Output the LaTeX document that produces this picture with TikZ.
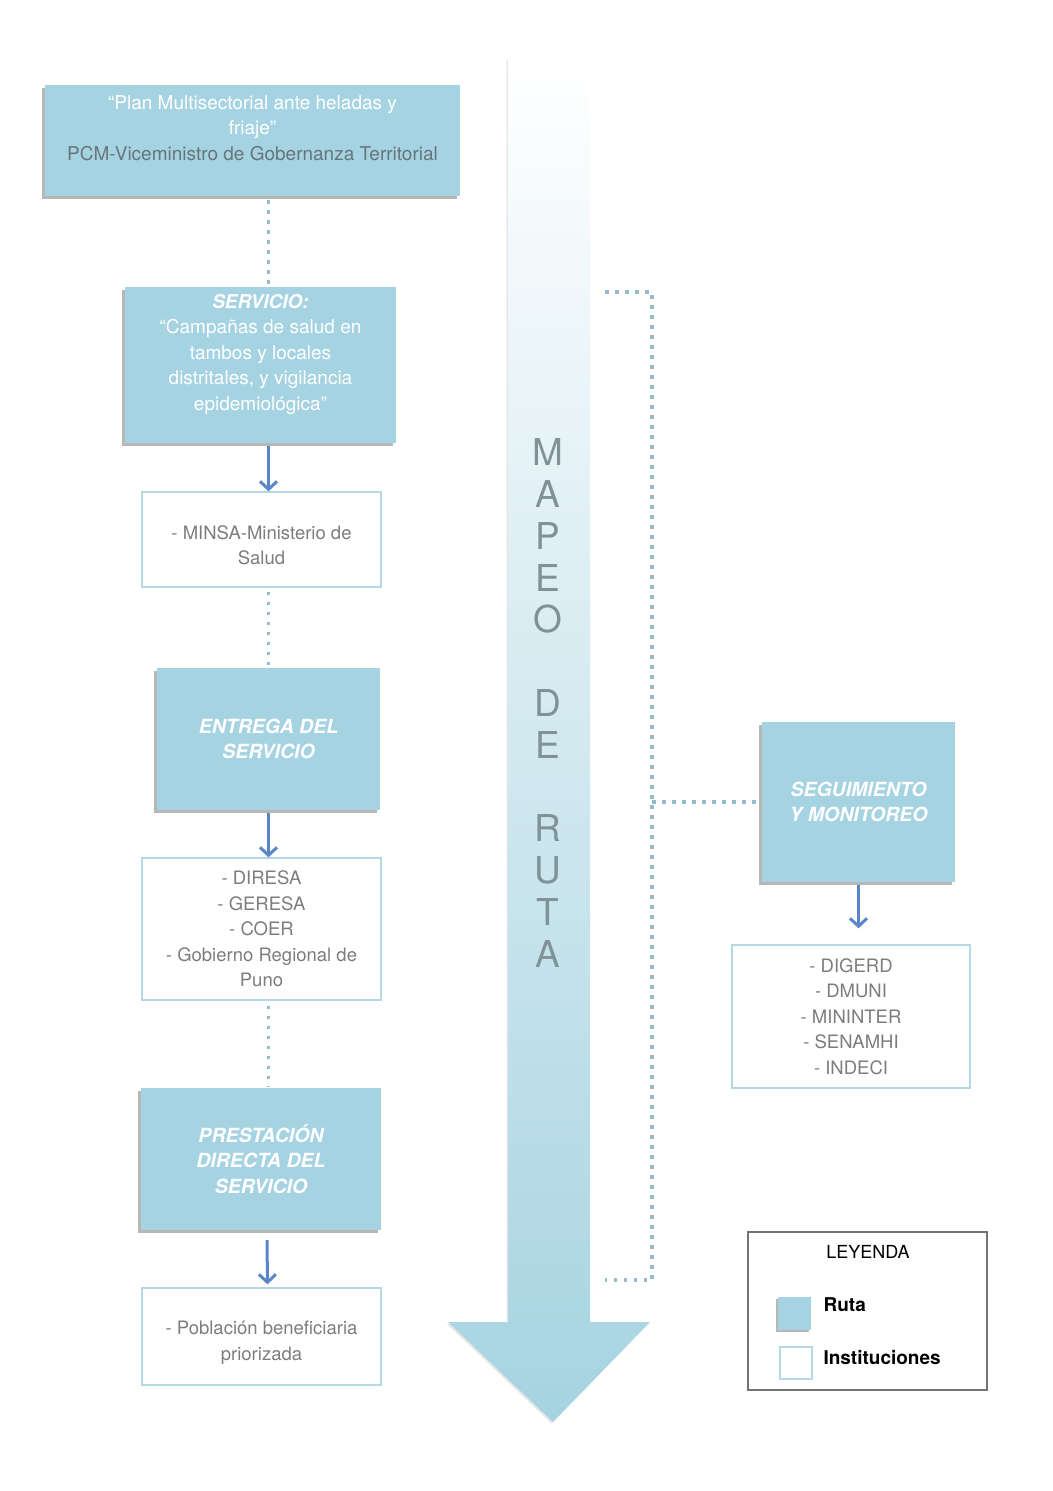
\documentclass[tikz,border=0pt]{standalone}
\usepackage{fontspec}
\setmainfont{TeX Gyre Heros}
\usetikzlibrary{arrows.meta,shadows,calc}
\definecolor{rutac}{RGB}{166,211,225}
\definecolor{flechac}{RGB}{88,134,200}
\definecolor{dotc}{RGB}{150,188,202}
\definecolor{bordec}{RGB}{182,216,229}
\definecolor{gristxt}{RGB}{125,125,125}
\definecolor{grisplan}{RGB}{100,118,124}
\definecolor{letrac}{RGB}{128,146,152}
\begin{document}
\begin{tikzpicture}[x=1pt, y=-1pt,
  rutabox/.style={fill=rutac, text=white, align=center, inner sep=4pt,
    font=\fontsize{19}{25.5}\selectfont,
    drop shadow={shadow xshift=-3pt, shadow yshift=-3pt, opacity=.4, fill=black!70}},
  titulo/.style={rutabox, font=\fontsize{19.5}{25.5}\selectfont\bfseries\itshape},
  instbox/.style={draw=bordec, line width=1.3pt, fill=white, text=gristxt, align=center,
    inner sep=4pt, font=\fontsize{18.5}{25.5}\selectfont},
  puntos/.style={dotc, line width=3.5pt, dash pattern=on 3.5pt off 6.5pt},
  flecha/.style={flechac, line width=3pt, -{Straight Barb[length=8pt,width=17pt]}}]
\useasboundingbox (0,0) rectangle (1052,1491);

% big route arrow
\shade[top color=white, middle color=rutac!75, bottom color=rutac,
  drop shadow={shadow xshift=-1.5pt, shadow yshift=-1.5pt, opacity=.2}]
  (508,58) -- (590,58) -- (590,1322) -- (650,1322) -- (553,1422) -- (448,1322) -- (508,1322) -- cycle;
\node[text=letrac, align=center, font=\fontsize{37}{41.8}\selectfont] (mapeo) at (548,703)
  {M\\A\\P\\E\\O\\\mbox{}\\D\\E\\\mbox{}\\R\\U\\T\\A};

% route boxes
\node[rutabox, minimum width=415pt, minimum height=111pt] (plan) at (252.5,140.5)
  {“Plan Multisectorial ante heladas y\\ friaje”\\ \textcolor{grisplan}{PCM-Viceministro de Gobernanza Territorial}\\ \mbox{}};
\node[rutabox, minimum width=271pt, minimum height=156pt] (serv) at (260.5,365)
  {\textbf{\textit{SERVICIO:}}\\ “Campañas de salud en\\ tambos y locales\\ distritales, y vigilancia\\ epidemiológica”\\ \mbox{}};
\node[titulo, minimum width=223pt, minimum height=142pt] (entrega) at (268.5,739)
  {ENTREGA DEL\\ SERVICIO};
\node[titulo, minimum width=240pt, minimum height=142pt] (prest) at (261,1159)
  {PRESTACIÓN\\ DIRECTA DEL\\ SERVICIO};
\node[titulo, minimum width=193pt, minimum height=160pt] (segui) at (858.5,802)
  {SEGUIMIENTO\\ Y MONITOREO};

% institution boxes
\node[instbox, minimum width=239pt, minimum height=95pt] (minsa) at (261.5,539.5)
  {\mbox{}\\ - MINSA-Ministerio de\\ Salud};
\node[instbox, minimum width=239pt, minimum height=142pt] (diresa) at (261.5,929)
  {- DIRESA\\ - GERESA\\ - COER\\ - Gobierno Regional de\\ Puno};
\node[instbox, minimum width=239pt, minimum height=97pt] (pobl) at (261.5,1336.5)
  {\mbox{}\\ - Población beneficiaria\\ priorizada};
\node[instbox, minimum width=238pt, minimum height=143pt] (digerd) at (851,1016.5)
  {- DIGERD\\ - DMUNI\\ - MININTER\\ - SENAMHI\\ - INDECI};

% connectors
\draw[puntos] ($(plan.south -| entrega)+(0,4)$) -- ($(serv.north -| entrega)+(0,-2)$);
\draw[flecha] ($(serv.south -| entrega)+(0,3)$) -- (minsa.north -| entrega);
\draw[puntos] ($(minsa.south -| entrega)+(0,4)$) -- ($(entrega.north)+(0,-2)$);
\draw[flecha] ($(entrega.south)+(0,3)$) -- (diresa.north -| entrega);
\draw[puntos] ($(diresa.south -| entrega)+(0,5)$) -- ($(prest.north -| entrega)+(0,-2)$);
\draw[flecha] ($(prest.south)+(6,10)$) -- ($(pobl.north)+(6,-3)$);
\draw[flecha] ($(segui.south)+(0,3)$) -- ($(digerd.north -| segui)+(0,-16)$);

% monitoring bracket
\coordinate (ba) at (605,292);
\coordinate (bb) at (652,292);
\coordinate (bc) at (652,1280);
\coordinate (bd) at (605,1280);
\coordinate (bm) at (652,802);
\draw[puntos] (ba) -- (bb) -- (bc) -- (bd);
\draw[puntos] (bm) -- (segui.west);

% legend
\node[draw=black!55, line width=2pt, minimum width=239pt, minimum height=158pt] (leyenda) at (867.5,1311) {};
\node[font=\fontsize{18}{22}\selectfont] (leytit) at (868,1252) {LEYENDA};
\node[fill=rutac, minimum size=33pt, inner sep=0pt,
  drop shadow={shadow xshift=-2pt, shadow yshift=-2pt, opacity=.4, fill=black!70}] (lruta) at (794,1313) {};
\node[draw=bordec, line width=1.3pt, fill=white, minimum size=32pt, inner sep=0pt] (linst) at (796,1363) {};
\node[anchor=west, font=\fontsize{19}{22}\selectfont\bfseries] (truta) at (820,1305) {Ruta};
\node[anchor=west, font=\fontsize{19}{22}\selectfont\bfseries] (tinst) at (820,1357) {Instituciones};
\end{tikzpicture}
\end{document}
